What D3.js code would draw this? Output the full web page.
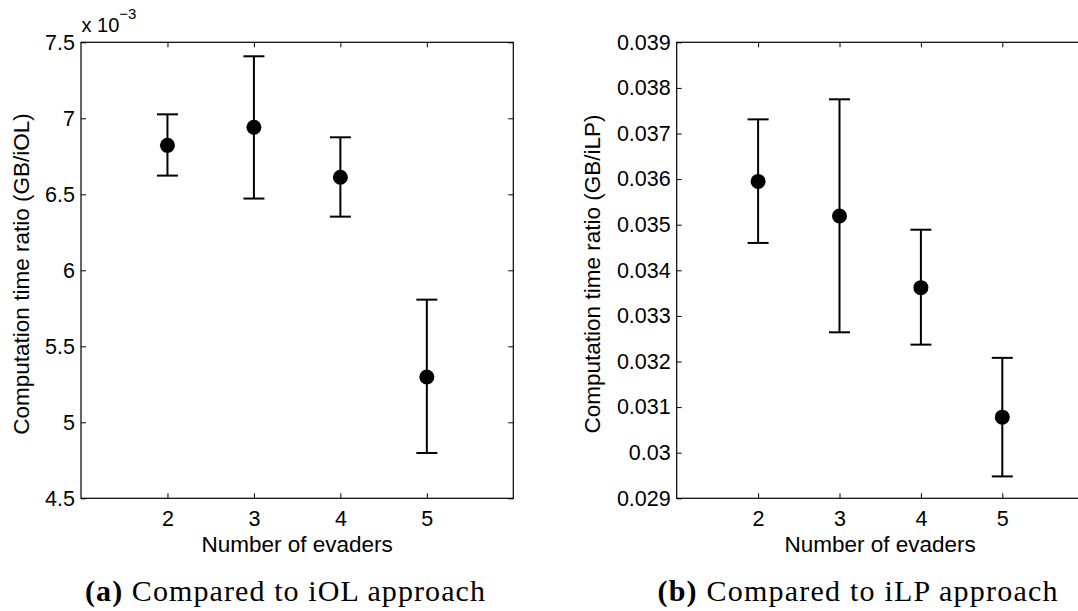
<!DOCTYPE html>
<html>
<head>
<meta charset="utf-8">
<script src="https://cdn.jsdelivr.net/npm/d3@7"></script>
<style>
  body { margin: 0; background: #fff; }
  svg { display: block; }
  .tick text { font-family: "Liberation Sans", Arial, sans-serif; }
</style>
</head>
<body>
<div id="chart"></div>
<script>
// number of evaders on the x axis
var evaders = [2, 3, 4, 5]
var xTicks = [2, 3, 4, 5]

// (a) GB / iOL ratio, in units of 1e-3
var iolMean = [6.822, 6.941, 6.612, 5.298]
var iolLow  = [6.623, 6.472, 6.353, 4.798]
var iolHigh = [7.026, 7.408, 6.875, 5.807]
var iolTicks = [4.5, 5, 5.5, 6, 6.5, 7, 7.5]

// (b) GB / iLP ratio
var ilpMean = [0.03595, 0.03519, 0.03362, 0.03078]
var ilpLow  = [0.03460, 0.03264, 0.03237, 0.02948]
var ilpHigh = [0.03731, 0.03775, 0.03489, 0.03208]
var ilpTicks = [0.029, 0.030, 0.031, 0.032, 0.033, 0.034, 0.035, 0.036, 0.037, 0.038, 0.039]

var W = 1078, H = 611

const svg = d3.select('#chart').append('svg')
    .attr('width', W)
    .attr('height', H)

function drawPanel(opt) {
    var x = d3.scaleLinear().domain([1, 6]).range([opt.left, opt.right])
    var y = d3.scaleLinear().domain(opt.yDomain).range([498.3, 42.3])

    var g = svg.append('g')

    // axes, ticks pointing inwards on all four sides
    var fmt = opt.fmt
    g.append('g')
        .attr('transform', 'translate(0,498.3)')
        .call(d3.axisBottom(x).tickValues(xTicks).tickSize(-5).tickSizeOuter(0).tickPadding(12).tickFormat(d3.format('d')))
    g.append('g')
        .attr('transform', 'translate(0,42.3)')
        .call(d3.axisTop(x).tickValues(xTicks).tickSize(-5).tickSizeOuter(0).tickFormat(''))
    g.append('g')
        .attr('transform', 'translate(' + opt.left + ',0)')
        .call(d3.axisLeft(y).tickValues(opt.yTicks).tickSize(-5).tickSizeOuter(0).tickPadding(6).tickFormat(fmt))
    g.append('g')
        .attr('transform', 'translate(' + opt.right + ',0)')
        .call(d3.axisRight(y).tickValues(opt.yTicks).tickSize(-5).tickSizeOuter(0).tickFormat(''))

    g.selectAll('.domain').remove()
    g.selectAll('.tick line').attr('stroke', '#000').attr('stroke-width', 1)
    g.selectAll('.tick text').attr('font-size', 21.5).attr('fill', '#000')

    g.append('rect')
        .attr('x', opt.left)
        .attr('y', 42.3)
        .attr('width', opt.right - opt.left)
        .attr('height', 498.3 - 42.3)
        .attr('fill', 'none')
        .attr('stroke', '#000')
        .attr('stroke-width', 1.2)

    // error bars
    var cap = 10.5
    var bars = g.append('g')
        .attr('stroke', '#000')
        .attr('stroke-width', 2)
        .selectAll('g')
        .data(evaders.map((e, i) => ({e: e, m: opt.mean[i], lo: opt.low[i], hi: opt.high[i]})))
        .join('g')
    bars.append('line')
        .attr('x1', d => x(d.e)).attr('x2', d => x(d.e))
        .attr('y1', d => y(d.lo)).attr('y2', d => y(d.hi))
    bars.append('line')
        .attr('x1', d => x(d.e) - cap).attr('x2', d => x(d.e) + cap)
        .attr('y1', d => y(d.hi)).attr('y2', d => y(d.hi))
    bars.append('line')
        .attr('x1', d => x(d.e) - cap).attr('x2', d => x(d.e) + cap)
        .attr('y1', d => y(d.lo)).attr('y2', d => y(d.lo))
    bars.append('circle')
        .attr('cx', d => x(d.e))
        .attr('cy', d => y(d.m))
        .attr('r', 7.5)
        .attr('fill', '#000')
        .attr('stroke', 'none')

    // axis labels
    g.append('text')
        .attr('x', (opt.left + opt.right) / 2)
        .attr('y', 551.5)
        .attr('text-anchor', 'middle')
        .attr('font-family', '"Liberation Sans", Arial, sans-serif')
        .attr('font-size', 22.5)
        .text('Number of evaders')

    g.append('text')
        .attr('transform', 'translate(' + opt.yLabelX + ',274) rotate(-90)')
        .attr('text-anchor', 'middle')
        .attr('font-family', '"Liberation Sans", Arial, sans-serif')
        .attr('font-size', 22.5)
        .text(opt.yLabel)

    // sub caption
    var cap2 = g.append('text')
        .attr('x', opt.capX)
        .attr('y', 601)
        .attr('text-anchor', 'middle')
        .attr('font-family', '"Liberation Serif", "Times New Roman", serif')
        .attr('font-size', 30)
        .attr('textLength', 400)
        .attr('lengthAdjust', 'spacing')
    cap2.append('tspan').attr('font-weight', 'bold').text(opt.capTag)
    cap2.append('tspan').text(' ' + opt.capText)

    return g
}

var gA = drawPanel({
    left: 81, right: 513.3,
    yDomain: [4.5, 7.5], yTicks: iolTicks,
    fmt: d => String(+d.toFixed(1)),
    mean: iolMean, low: iolLow, high: iolHigh,
    yLabel: 'Computation time ratio (GB/iOL)', yLabelX: 28.5,
    capX: 285, capTag: '(a)', capText: 'Compared to iOL approach'
})

drawPanel({
    left: 676.7, right: 1083.7,
    yDomain: [0.029, 0.039], yTicks: ilpTicks,
    fmt: d3.format('~g'),
    mean: ilpMean, low: ilpLow, high: ilpHigh,
    yLabel: 'Computation time ratio (GB/iLP)', yLabelX: 600,
    capX: 857.5, capTag: '(b)', capText: 'Compared to iLP approach'
})

// exponent above the left panel
var ex = gA.append('text')
    .attr('x', 81.5)
    .attr('y', 31.5)
    .attr('font-family', '"Liberation Sans", Arial, sans-serif')
    .attr('font-size', 20)
    .text('x 10')
ex.append('tspan')
    .attr('font-size', 15)
    .attr('dy', -13)
    .text('\u22123')
</script>
</body>
</html>
